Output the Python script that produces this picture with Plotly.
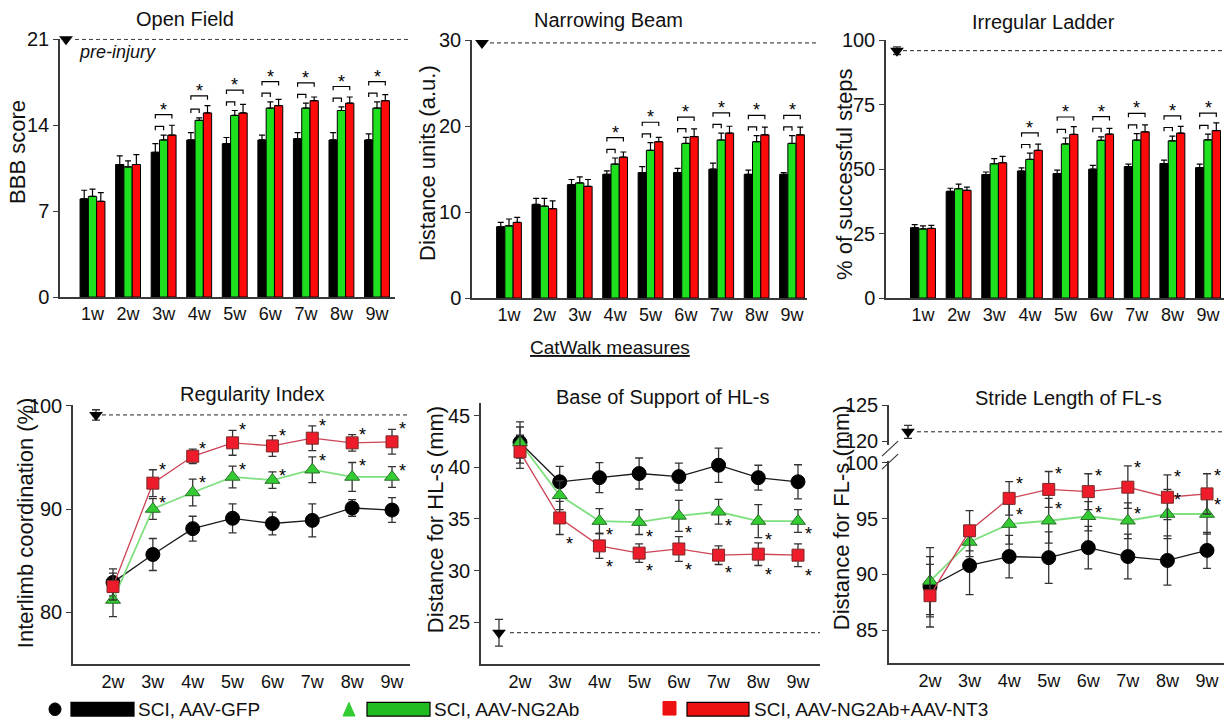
import plotly.graph_objects as go

W, H = 1224, 728
FONT = "Liberation Sans, Arial, Helvetica, sans-serif"

# ---------------- data ----------------
bar_weeks = ["1w", "2w", "3w", "4w", "5w", "6w", "7w", "8w", "9w"]
line_weeks = ["2w", "3w", "4w", "5w", "6w", "7w", "8w", "9w"]
groups = ["SCI, AAV-GFP", "SCI, AAV-NG2Ab", "SCI, AAV-NG2Ab+AAV-NT3"]

# Open Field (BBB score)
of_gfp = [8.0, 10.8, 11.8, 12.8, 12.5, 12.8, 12.9, 12.8, 12.8]
of_gfp_err = [0.7, 0.7, 0.7, 0.6, 0.5, 0.4, 0.5, 0.6, 0.5]
of_ng = [8.2, 10.6, 12.8, 14.4, 14.8, 15.4, 15.4, 15.2, 15.4]
of_ng_err = [0.6, 0.5, 0.4, 0.2, 0.4, 0.5, 0.4, 0.3, 0.5]
of_nt = [7.8, 10.8, 13.2, 15.0, 15.0, 15.6, 16.0, 15.8, 16.0]
of_nt_err = [0.7, 0.8, 0.8, 0.6, 0.7, 0.5, 0.3, 0.5, 0.5]
of_sig = [0, 0, 1, 1, 1, 1, 1, 1, 1]
of_pre = 21.0

# Narrowing Beam (distance units)
nb_gfp = [8.3, 10.9, 13.2, 14.4, 14.6, 14.6, 15.0, 14.4, 14.4]
nb_gfp_err = [0.5, 0.7, 0.6, 0.4, 0.7, 0.5, 0.7, 0.5, 0.2]
nb_ng = [8.4, 10.7, 13.4, 15.6, 17.2, 18.0, 18.4, 18.2, 18.0]
nb_ng_err = [0.8, 0.9, 0.7, 0.7, 0.9, 0.7, 0.8, 0.7, 0.9]
nb_nt = [8.8, 10.4, 13.0, 16.4, 18.2, 18.8, 19.2, 19.0, 19.0]
nb_nt_err = [0.6, 0.9, 0.8, 0.6, 0.5, 0.9, 0.8, 0.9, 0.9]
nb_sig = [0, 0, 0, 1, 1, 1, 1, 1, 1]
nb_pre = 29.7

# Irregular Ladder (% successful steps)
il_gfp = [27.3, 41.4, 47.9, 49.3, 48.3, 50.0, 51.0, 52.2, 50.6]
il_gfp_err = [1.2, 1.2, 1.0, 1.2, 1.3, 1.5, 1.0, 1.3, 1.4]
il_ng = [26.8, 42.4, 52.1, 53.8, 59.8, 61.2, 61.3, 61.0, 61.4]
il_ng_err = [1.2, 1.8, 2.0, 2.4, 2.3, 1.3, 2.5, 1.8, 2.2]
il_nt = [27.0, 41.8, 52.5, 57.3, 63.5, 63.6, 64.5, 64.0, 65.0]
il_nt_err = [1.2, 1.2, 2.5, 2.4, 3.0, 2.2, 2.7, 2.6, 3.0]
il_sig = [0, 0, 0, 1, 1, 1, 1, 1, 1]
il_pre = 96.0
il_pre_err = 1.5

# Regularity Index (interlimb coordination %)
ri_gfp = [82.9, 85.6, 88.1, 89.1, 88.6, 88.9, 90.1, 89.9]
ri_gfp_err = [1.3, 1.55, 1.2, 1.4, 1.1, 1.6, 0.8, 1.2]
ri_ng = [81.2, 90.0, 91.6, 93.1, 92.8, 93.8, 93.1, 93.1]
ri_ng_err = [1.6, 1.0, 1.3, 1.05, 0.8, 1.25, 1.4, 1.0]
ri_nt = [82.5, 92.5, 95.1, 96.4, 96.1, 96.85, 96.4, 96.5]
ri_nt_err = [1.3, 1.3, 0.7, 1.2, 1.0, 1.2, 0.8, 1.2]
ri_sig_ng = [0, 1, 1, 1, 1, 1, 1, 1]
ri_sig_nt = [0, 1, 1, 1, 1, 1, 1, 1]
ri_pre = 99.1
ri_pre_err = 0.5

# Base of Support of HL-s (mm)
bs_gfp = [42.4, 38.6, 39.0, 39.4, 39.1, 40.2, 39.0, 38.6]
bs_gfp_err = [2.0, 1.5, 1.45, 1.5, 1.3, 1.65, 1.2, 1.65]
bs_ng = [42.4, 37.3, 34.8, 34.7, 35.3, 35.7, 34.8, 34.8]
bs_ng_err = [1.5, 1.4, 1.2, 1.2, 1.5, 1.2, 1.6, 1.1]
bs_nt = [41.5, 35.1, 32.4, 31.7, 32.1, 31.5, 31.6, 31.5]
bs_nt_err = [1.6, 1.6, 1.2, 0.9, 1.2, 0.9, 1.1, 1.1]
bs_sig_ng = [0, 0, 1, 1, 1, 1, 1, 1]
bs_sig_nt = [0, 1, 1, 1, 1, 1, 1, 1]
bs_pre = 24.0
bs_pre_err = 1.3

# Stride Length of FL-s (mm)
sl_gfp = [88.9, 90.8, 91.6, 91.5, 92.4, 91.6, 91.25, 92.15]
sl_gfp_err = [2.7, 2.6, 1.9, 2.3, 1.9, 2.0, 2.2, 1.6]
sl_ng = [89.4, 92.9, 94.5, 94.8, 95.2, 94.8, 95.4, 95.4]
sl_ng_err = [3.0, 1.3, 1.8, 2.0, 1.3, 1.6, 2.2, 1.8]
sl_nt = [88.1, 93.9, 96.8, 97.6, 97.4, 97.8, 96.9, 97.2]
sl_nt_err = [2.8, 1.8, 1.5, 1.6, 1.6, 1.9, 2.0, 1.8]
sl_sig_ng = [0, 0, 1, 1, 1, 1, 1, 1]
sl_sig_nt = [0, 0, 1, 1, 1, 1, 1, 1]
sl_pre = 121.3
sl_pre_err = 0.9

# ---------------- style ----------------
C_BLACK = "#000000"
C_GREEN_BAR = "#1ee01e"
C_RED_BAR = "#ff0a0a"
C_GREEN_MK = "#33cc33"
C_RED_MK = "#ee1c2a"
C_GREEN_LN = "#7fe07f"
C_RED_LN = "#cc4455"
AX = "#3a3a3a"
BARGAP = 0.3

# vertical calibration of the photographed page (screen px -> figure px)
OFF_Y, SCALE_Y = 11.2, 0.969


def Y(p):
    return (p - OFF_Y) / SCALE_Y


def px_x(p):
    return p / W


def px_y(p):
    return 1 - p / H


def mapper(vA, pA, vB, pB):
    k = (vB - vA) / (pB - pA)
    return lambda p: vA + (p - pA) * k


# panel geometry in (screen) pixels: left, right, top, bottom, x / y calibration
SPEC = {
    1: dict(l=60, r=395, t=39, b=297, xa=(1, 92.5, 9, 377), ya=(0, 297, 21, 39),
            yt=[0, 7, 14, 21], cats=bar_weeks),
    2: dict(l=472, r=807, t=40, b=298, xa=(1, 509, 9, 792), ya=(0, 298, 30, 40),
            yt=[0, 10, 20, 30], cats=bar_weeks),
    3: dict(l=886, r=1224, t=40, b=298, xa=(1, 923, 9, 1208), ya=(0, 298, 100, 40),
            yt=[0, 25, 50, 75, 100], cats=bar_weeks),
    4: dict(l=73, r=410, t=405, b=664, xa=(2, 113, 9, 392), ya=(80, 612, 100, 405),
            yt=[80, 90, 100], cats=line_weeks),
    5: dict(l=481, r=820, t=403, b=664, xa=(2, 520, 9, 798), ya=(25, 622, 45, 415),
            yt=[25, 30, 35, 40, 45], cats=line_weeks),
    6: dict(l=889, r=1224, t=461, b=663, xa=(2, 930, 9, 1207), ya=(85, 630, 90, 574),
            yt=[85, 90, 95, 100], cats=line_weeks),
}
UPPER6 = dict(t=405, b=445, ya=(120, 441, 125, 405), yt=[120, 125])

fig = go.Figure()
layout = {}
shapes = []
annotations = []

axis_common = dict(showline=True, linecolor=AX, linewidth=1.5, showgrid=False,
                   zeroline=False, fixedrange=True)
ppu = {}
fxs = {}

for n, s in SPEC.items():
    fx = mapper(*s["xa"])
    v1, p1, v2, p2 = s["ya"]
    fy = mapper(v1, Y(p1), v2, Y(p2))
    fxs[n] = fx
    ppu[n] = (Y(p1) - Y(p2)) / (v2 - v1)
    xk = "xaxis" if n == 1 else f"xaxis{n}"
    yk = "yaxis" if n == 1 else f"yaxis{n}"
    ylo, yhi = fy(Y(s["b"])), fy(Y(s["t"]))
    eps = (yhi - ylo) * 0.002
    tickvals = [int(c[:-1]) for c in s["cats"]]
    layout[xk] = dict(axis_common, domain=[px_x(s["l"]), px_x(s["r"])],
                      range=[fx(s["l"]), fx(s["r"])], anchor=f"y{n}",
                      tickvals=tickvals, ticktext=s["cats"], ticks="",
                      tickfont=dict(family=FONT, size=18, color="#111"))
    layout[yk] = dict(axis_common, domain=[px_y(Y(s["b"])), px_y(Y(s["t"]))],
                      range=[ylo, yhi + eps], anchor=f"x{n}", tickvals=s["yt"],
                      ticks="outside", ticklen=5, tickwidth=1.2, tickcolor=AX,
                      tickfont=dict(family=FONT, size=20, color="#111"))

u1, q1, u2, q2 = UPPER6["ya"]
fyu = mapper(u1, Y(q1), u2, Y(q2))
layout["yaxis7"] = dict(axis_common, domain=[px_y(Y(UPPER6["b"])), px_y(Y(UPPER6["t"]))],
                        range=[fyu(Y(UPPER6["b"])), fyu(Y(UPPER6["t"])) + 0.01], anchor="x6",
                        tickvals=UPPER6["yt"], ticks="outside", ticklen=5, tickwidth=1.2,
                        tickcolor=AX, tickfont=dict(family=FONT, size=20, color="#111"))


def star(xref, yref, x, y, xshift=0, yshift=0, xanchor="center"):
    annotations.append(dict(text="*", x=x, y=y, xref=xref, yref=yref, showarrow=False,
                            xanchor=xanchor, yanchor="middle", xshift=xshift, yshift=yshift,
                            font=dict(family=FONT, size=18, color="black")))


def bar_panel(n, gfp, gfp_e, ng, ng_e, nt, nt_e, sig):
    xs = [int(w[:-1]) for w in bar_weeks]
    xa, ya = ("x" if n == 1 else f"x{n}"), ("y" if n == 1 else f"y{n}")
    for vals, errs, col, name in ((gfp, gfp_e, C_BLACK, groups[0]),
                                  (ng, ng_e, C_GREEN_BAR, groups[1]),
                                  (nt, nt_e, C_RED_BAR, groups[2])):
        fig.add_trace(go.Bar(x=xs, y=vals, xaxis=xa, yaxis=ya, name=name,
                             marker=dict(color=col, line=dict(color="black", width=1)),
                             error_y=dict(type="data", array=errs, arrayminus=[0] * len(errs),
                                          symmetric=False, color="black", thickness=1.2, width=3),
                             showlegend=False, hoverinfo="skip"))
    off = (1 - BARGAP) / 3
    u = ppu[n]
    for i, x in enumerate(xs):
        if not sig[i]:
            continue
        tb, tg, tr = gfp[i] + gfp_e[i], ng[i] + ng_e[i], nt[i] + nt_e[i]
        ys = max(tb, tg) + 9 / u
        yb = max(ys + 12 / u, max(tb, tg, tr) + 10 / u)
        tk = 4 / u
        xb, xg, xr = x - off, x, x + off
        for y0, x1 in ((ys, xg), (yb, xr)):
            shapes.append(dict(type="path", xref=xa, yref=ya,
                               path=f"M {xb},{y0 - tk} L {xb},{y0} L {x1},{y0} L {x1},{y0 - tk}",
                               line=dict(color="black", width=1.2)))
        star(xa, ya, x, yb, yshift=5)


bar_panel(1, of_gfp, of_gfp_err, of_ng, of_ng_err, of_nt, of_nt_err, of_sig)
bar_panel(2, nb_gfp, nb_gfp_err, nb_ng, nb_ng_err, nb_nt, nb_nt_err, nb_sig)
bar_panel(3, il_gfp, il_gfp_err, il_ng, il_ng_err, il_nt, il_nt_err, il_sig)


def line_panel(n, gfp, gfp_e, ng, ng_e, nt, nt_e):
    xs = [int(w[:-1]) for w in line_weeks]
    xa, ya = f"x{n}", f"y{n}"
    specs = ((gfp, gfp_e, "circle", 14, C_BLACK, "#000", "#1a1a1a", 1.3, groups[0]),
             (ng, ng_e, "triangle-up", 13, C_GREEN_MK, "#2a6e2a", C_GREEN_LN, 1.8, groups[1]),
             (nt, nt_e, "square", 12, C_RED_MK, "#7a2a2a", C_RED_LN, 1.3, groups[2]))
    for vals, errs, sym, size, fill, edge, lcol, lw, name in specs:
        fig.add_trace(go.Scatter(x=xs, y=vals, xaxis=xa, yaxis=ya, mode="lines+markers",
                                 name=name, line=dict(color=lcol, width=lw),
                                 marker=dict(symbol=sym, size=size, color=fill,
                                             line=dict(color=edge, width=1)),
                                 error_y=dict(type="data", array=errs, color="#333",
                                              thickness=1.3, width=4),
                                 showlegend=False, hoverinfo="skip", cliponaxis=False))
    return xs


def pre_marker(xa, ya, x, y, err=None):
    fig.add_trace(go.Scatter(x=[x], y=[y], xaxis=xa, yaxis=ya, mode="markers",
                             marker=dict(symbol="triangle-down", size=12, color="black"),
                             error_y=(dict(type="data", array=[err], color="#333",
                                           thickness=1.3, width=4) if err else None),
                             showlegend=False, hoverinfo="skip", cliponaxis=False))


def dashed(yref, y, px0, px1):
    shapes.append(dict(type="line", xref="paper", yref=yref, x0=px_x(px0), x1=px_x(px1),
                       y0=y, y1=y, line=dict(color="#222", width=1, dash="4px,3px")))


# pre-injury markers (x position = pre-injury slot left of first week)
pre_marker("x", "y", fxs[1](66), of_pre)
pre_marker("x2", "y2", fxs[2](482), nb_pre)
pre_marker("x3", "y3", fxs[3](897), il_pre, il_pre_err)
dashed("y", of_pre, 75, 410)
dashed("y2", nb_pre, 490, 818)
dashed("y3", il_pre, 903, 1224)

# Regularity index
xs4 = line_panel(4, ri_gfp, ri_gfp_err, ri_ng, ri_ng_err, ri_nt, ri_nt_err)
pre_marker("x4", "y4", fxs[4](96), ri_pre, ri_pre_err)
dashed("y4", ri_pre, 102, 410)
for i, x in enumerate(xs4):
    if ri_sig_nt[i]:
        star("x4", "y4", x, ri_nt[i] + ri_nt_err[i], xshift=10, yshift=0)
    if ri_sig_ng[i]:
        star("x4", "y4", x, ri_ng[i] + ri_ng_err[i], xshift=10, yshift=-4)

# Base of support
xs5 = line_panel(5, bs_gfp, bs_gfp_err, bs_ng, bs_ng_err, bs_nt, bs_nt_err)
pre_marker("x5", "y5", fxs[5](499), bs_pre, bs_pre_err)
dashed("y5", bs_pre, 510, 820)
for i, x in enumerate(xs5):
    if bs_sig_ng[i]:
        star("x5", "y5", x, bs_ng[i] - bs_ng_err[i], xshift=10, yshift=-2)
    if bs_sig_nt[i]:
        star("x5", "y5", x, bs_nt[i] - bs_nt_err[i], xshift=10, yshift=-9)

# Stride length (broken axis)
xs6 = line_panel(6, sl_gfp, sl_gfp_err, sl_ng, sl_ng_err, sl_nt, sl_nt_err)
pre_marker("x6", "y7", fxs[6](908), sl_pre, sl_pre_err)
dashed("y7", sl_pre, 917, 1224)
for i, x in enumerate(xs6):
    if sl_sig_nt[i]:
        star("x6", "y6", x, sl_nt[i] + sl_nt_err[i], xshift=10, yshift=-2)
    if sl_sig_ng[i]:
        star("x6", "y6", x, sl_ng[i] + sl_ng_err[i], xshift=10, yshift=-11)

# axis break marks
for (ax0, ay0, ax1, ay1) in ((882, 456, 898, 441), (882, 469, 898, 454)):
    shapes.append(dict(type="line", xref="paper", yref="paper", x0=px_x(ax0), y0=px_y(Y(ay0)),
                       x1=px_x(ax1), y1=px_y(Y(ay1)), line=dict(color=AX, width=1.2)))


def text(t, x, y, size, angle=0, xanchor="center", color="#111", conv=True):
    yy = Y(y) if conv else y
    annotations.append(dict(text=t, x=px_x(x), y=px_y(yy), xref="paper", yref="paper",
                            showarrow=False, xanchor=xanchor, yanchor="middle",
                            textangle=angle, font=dict(family=FONT, size=size, color=color)))


# titles
text("Open Field", 185, 19, 20)
text("Narrowing Beam", 608, 20, 20)
text("Irregular Ladder", 1043, 22, 20)
text("Regularity Index", 252, 394, 20)
text("Base of Support of HL-s", 662, 397, 20)
text("Stride Length of FL-s", 1068, 398, 20)
text("<u>CatWalk measures</u>", 610, 347, 19)
text("<i>pre-injury</i>", 77, 52, 18, xanchor="left")

# y axis titles
text("BBB score", 18, 152, 22, angle=-90)
text("Distance units (a.u.)", 428, 163, 22, angle=-90)
text("% of successful steps", 845, 174, 22, angle=-90)
text("Interlimb coordination (%)", 25, 523, 22, angle=-90)
text("Distance for HL-s (mm)", 435, 520, 22, angle=-90)
text("Distance for FL-s (mm)", 841, 518, 22, angle=-90)


# custom legend (placed at the lowest row the figure can show)
LG = 720  # figure px, centre of legend row


def rect_px(x0, y0, x1, y1, fill, lw=1.2):
    shapes.append(dict(type="rect", xref="paper", yref="paper", x0=px_x(x0), x1=px_x(x1),
                       y0=px_y(y1), y1=px_y(y0), fillcolor=fill,
                       line=dict(color="black", width=lw)))


shapes.append(dict(type="circle", xref="paper", yref="paper", x0=px_x(49), x1=px_x(61),
                   y0=px_y(LG + 6.5), y1=px_y(LG - 6.5), fillcolor="black",
                   line=dict(color="black", width=1)))
rect_px(71, LG - 7, 134, LG + 7, "black")
shapes.append(dict(type="path", xref="paper", yref="paper",
                   path=(f"M {px_x(343)},{px_y(LG + 7)} L {px_x(355)},{px_y(LG + 7)} "
                         f"L {px_x(349)},{px_y(LG - 7)} Z"),
                   fillcolor=C_GREEN_MK, line=dict(color=C_GREEN_MK, width=1)))
rect_px(367, LG - 7, 430, LG + 7, "#22bb22")
shapes.append(dict(type="rect", xref="paper", yref="paper", x0=px_x(663), x1=px_x(676),
                   y0=px_y(LG + 6), y1=px_y(LG - 8), fillcolor="#ee1111",
                   line=dict(color="#ee1111", width=1)))
rect_px(687, LG - 7, 749, LG + 7, "#ee1111")
text(groups[0], 136, LG, 19, xanchor="left", conv=False)
text(groups[1], 432, LG, 19, xanchor="left", conv=False)
text(groups[2], 752, LG, 19, xanchor="left", conv=False)

fig.update_layout(width=W, height=H, margin=dict(l=0, r=0, t=0, b=0),
                  paper_bgcolor="white", plot_bgcolor="rgba(0,0,0,0)",
                  barmode="group", bargap=BARGAP, bargroupgap=0,
                  showlegend=False, shapes=shapes, annotations=annotations,
                  font=dict(family=FONT, color="#111"), **layout)

PAGE_JS = ("var d=document.getElementById('{plot_id}');"
           "d.style.position='fixed';d.style.top='0px';d.style.left='0px';"
           "document.body.style.margin='0';document.body.style.padding='0';"
           "document.documentElement.style.overflow='hidden';"
           "document.body.style.overflow='hidden';")

fig.write_html("out.html", config={"displayModeBar": False}, post_script=PAGE_JS)
